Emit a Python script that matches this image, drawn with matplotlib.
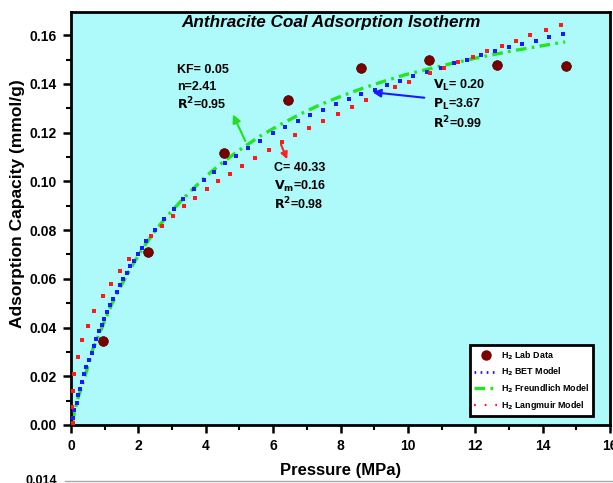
import matplotlib
matplotlib.use("Agg")
import matplotlib.pyplot as plt
from matplotlib.lines import Line2D
from matplotlib.ticker import MultipleLocator, FormatStrFormatter

plt.rcParams['font.family'] = ['Liberation Sans', 'DejaVu Sans']
plt.rcParams['font.weight'] = 'bold'

# Lab data
lab_p = [0.95, 2.28, 4.54, 6.44, 8.60, 10.62, 12.64, 14.69]
lab_v = [0.0345, 0.0710, 0.1115, 0.1333, 0.1464, 0.1500, 0.1476, 0.1472]

# BET model (blue dots)
bet_p = [0.05, 0.05, 0.10, 0.17, 0.22, 0.28, 0.33, 0.40, 0.45, 0.52, 0.61, 0.67, 0.75, 0.84,
         0.92, 0.99, 1.08, 1.17, 1.26, 1.36, 1.45, 1.54, 1.65, 1.76, 1.87, 1.98, 2.11, 2.24,
         2.48, 2.76, 3.05, 3.32, 3.64, 3.94, 4.24, 4.58, 4.91, 5.25, 5.61, 6.00, 6.35, 6.74,
         7.09, 7.48, 7.87, 8.24, 8.62, 9.03, 9.38, 9.77, 10.16, 10.58, 10.98, 11.37, 11.75,
         12.18, 12.60, 13.00, 13.40, 13.80, 14.20, 14.60]
bet_v = [0.0007, 0.0030, 0.0060, 0.0090, 0.0122, 0.0149, 0.0176, 0.0208, 0.0237, 0.0265, 0.0297,
         0.0324, 0.0354, 0.0384, 0.0412, 0.0436, 0.0465, 0.0492, 0.0518, 0.0546, 0.0573, 0.0598,
         0.0624, 0.0652, 0.0674, 0.0700, 0.0726, 0.0754, 0.0799, 0.0844, 0.0887, 0.0927, 0.0968,
         0.1005, 0.1038, 0.1074, 0.1105, 0.1135, 0.1166, 0.1198, 0.1221, 0.1247, 0.1271, 0.1292,
         0.1316, 0.1336, 0.1357, 0.1376, 0.1395, 0.1413, 0.1432, 0.1449, 0.1466, 0.1485, 0.1500,
         0.1518, 0.1535, 0.1550, 0.1563, 0.1578, 0.1591, 0.1604]

# Freundlich model (green dash-dot)
fr_p = [0.03, 0.20, 0.42, 0.64, 0.92, 1.19, 1.46, 1.83, 2.15, 2.54, 2.99, 3.48, 4.00, 4.52,
        5.07, 5.63, 6.20, 6.82, 7.42, 8.03, 8.68, 9.32, 9.91, 10.64, 11.25, 11.99, 12.53,
        13.16, 13.80, 14.43, 14.67]
fr_v = [0.0010, 0.0107, 0.0202, 0.0308, 0.0400, 0.0490, 0.0565, 0.0657, 0.0729, 0.0805, 0.0879,
        0.0950, 0.1020, 0.1080, 0.1135, 0.1187, 0.1232, 0.1277, 0.1316, 0.1350, 0.1383, 0.1412,
        0.1437, 0.1462, 0.1482, 0.1505, 0.1520, 0.1537, 0.1552, 0.1567, 0.1572]

# Langmuir model (red sparse dots)
lg_p = [0.05, 0.02, 0.05, 0.10, 0.20, 0.34, 0.50, 0.69, 0.94, 1.18, 1.45, 1.73, 2.37, 2.69,
        3.04, 3.36, 3.69, 4.04, 4.37, 4.71, 5.08, 5.47, 5.89, 6.26, 6.66, 7.06, 7.49, 7.92,
        8.34, 8.77, 9.18, 9.61, 10.04, 10.66, 11.08, 11.50, 11.92, 12.36, 12.79, 13.22, 13.63,
        14.10, 14.55]
lg_v = [0.0007, 0.0074, 0.0141, 0.0209, 0.0279, 0.0347, 0.0406, 0.0469, 0.0529, 0.0580, 0.0633,
        0.0681, 0.0774, 0.0816, 0.0859, 0.0897, 0.0931, 0.0967, 0.1000, 0.1031, 0.1063, 0.1095,
        0.1130, 0.1160, 0.1189, 0.1217, 0.1247, 0.1276, 0.1305, 0.1332, 0.1358, 0.1386, 0.1409,
        0.1444, 0.1466, 0.1488, 0.1511, 0.1535, 0.1556, 0.1578, 0.1599, 0.1621, 0.1642]

# Fit-parameter annotation lines
fr_text = ['KF= 0.05', 'n=2.41', '$\\mathbf{R^2}$=0.95']
bet_text = ['C= 40.33', '$\\mathbf{V_m}$=0.16', '$\\mathbf{R^2}$=0.98']
lg_text = ['$\\mathbf{V_L}$= 0.20', '$\\mathbf{P_L}$=3.67', '$\\mathbf{R^2}$=0.99']

fig = plt.figure(figsize=(6.13, 4.83), dpi=100)
ax = fig.add_axes([71/613, 1-425/483, 539/613, 413/483])
ax.set_facecolor('#aefafa')

ax.plot(fr_p, fr_v, color='#22e622', lw=2.4, linestyle=(0, (3.2, 1.6, 0.8, 1.6)), zorder=2)
ax.plot(bet_p, bet_v, linestyle='none', marker='s', ms=2.2, color='#1a1aff', mew=0, zorder=3)
ax.plot(lg_p, lg_v, linestyle='none', marker='s', ms=2.2, color='#ff1a1a', mew=0, zorder=3)
ax.plot(lab_p, lab_v, linestyle='none', marker='o', ms=7, color='#7a0000',
        mec='#4a0000', mew=0.5, zorder=4)

ax.set_xlim(0, 16)
ax.set_ylim(0, 0.1695)
ax.xaxis.set_major_locator(MultipleLocator(2))
ax.xaxis.set_minor_locator(MultipleLocator(1))
ax.yaxis.set_major_locator(MultipleLocator(0.02))
ax.yaxis.set_minor_locator(MultipleLocator(0.01))
ax.yaxis.set_major_formatter(FormatStrFormatter('%.2f'))
ax.tick_params(which='major', direction='out', length=6, width=1.8, labelsize=10, pad=4)
ax.tick_params(which='minor', direction='out', length=3.5, width=1.5)
for lab in ax.get_xticklabels() + ax.get_yticklabels():
    lab.set_fontweight('bold')
for s in ax.spines.values():
    s.set_linewidth(2)

ax.set_xlabel('Pressure (MPa)', fontsize=12, fontweight='bold', labelpad=7)
ax.set_ylabel('Adsorption Capacity (mmol/g)', fontsize=12.5, fontweight='bold')
ax.yaxis.set_label_coords(-0.085, 0.535)

ax.text(0.482, 0.974, 'Anthracite Coal Adsorption Isotherm', transform=ax.transAxes,
        ha='center', va='center', fontsize=12.3, fontweight='bold', fontstyle='italic')

def block(lines, x_px, y_px):
    for s, yp in zip(lines, y_px):
        fig.text(x_px/613, 1-yp/483, s, fontsize=9, fontweight='bold', ha='left', va='center')

block(fr_text, 177, [70, 87, 104])
block(bet_text, 274, [168, 186, 204])
block(lg_text, 433, [85, 104, 123])

ax.annotate('', xy=(4.77, 0.1285), xytext=(5.21, 0.1155),
            arrowprops=dict(arrowstyle='-|>', color='#22dd22', lw=1.5, mutation_scale=12))
ax.annotate('', xy=(6.45, 0.1080), xytext=(6.20, 0.1162),
            arrowprops=dict(arrowstyle='-|>', color='#ff2020', lw=1.5, mutation_scale=10))
ax.annotate('', xy=(8.87, 0.1367), xytext=(10.57, 0.1342),
            arrowprops=dict(arrowstyle='-|>', color='#1a1aff', lw=1.5, mutation_scale=12))

handles = [
    Line2D([], [], linestyle='none', marker='o', ms=6.5, color='#7a0000'),
    Line2D([], [], color='#1a1aff', lw=2, linestyle=(0, (0.6, 1.6))),
    Line2D([], [], color='#22e622', lw=2.4, linestyle=(0, (3.2, 1.6, 0.8, 1.6))),
    Line2D([], [], color='#ff1a1a', lw=1.6, linestyle=(0, (0.8, 4))),
]
labels = ['H$_2$ Lab Data', 'H$_2$ BET Model', 'H$_2$ Freundlich Model', 'H$_2$ Langmuir Model']
leg = ax.legend(handles, labels, loc='lower right', bbox_to_anchor=(0.969, 0.022),
                prop={'size': 6.4, 'weight': 'bold'}, frameon=True, fancybox=False,
                edgecolor='black', framealpha=1, handlelength=2.6, handletextpad=0.4,
                borderpad=0.45, labelspacing=0.45, borderaxespad=0)
leg.get_frame().set_linewidth(2)

fig.text(25/613, 1-481/483, '0.014', fontsize=9, fontweight='bold', va='center', ha='left')
fig.add_artist(Line2D([65/613, 1.0], [1-481/483, 1-481/483], color='#aaaaaa', lw=1))

fig.savefig('out.png', dpi=100)
